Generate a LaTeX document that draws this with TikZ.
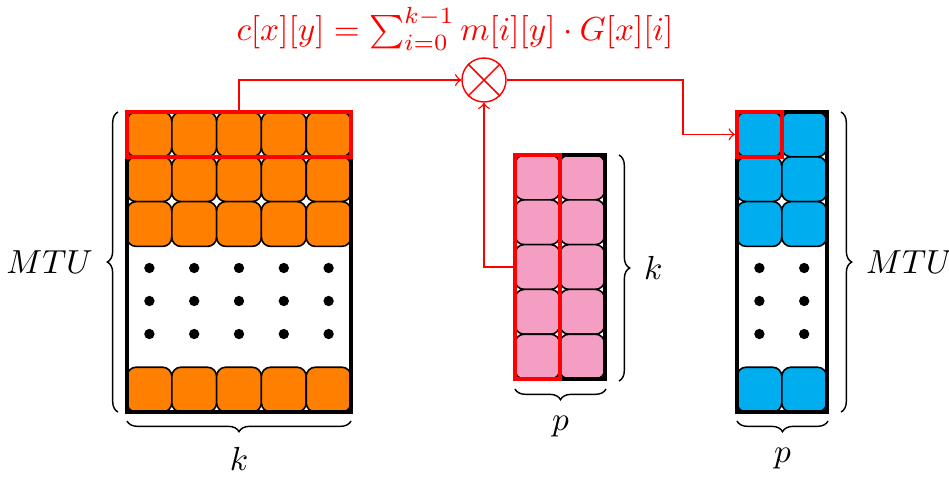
\documentclass[tikz,border=0pt]{standalone}
\usetikzlibrary{fit,decorations.pathreplacing}
\definecolor{orangeC}{RGB}{255,128,0}
\definecolor{pinkC}{RGB}{244,158,196}
\definecolor{cyanC}{RGB}{0,174,239}
\tikzset{
  cell/.style={draw=black, line width=0.48pt, rounded corners=2.75pt},
  frame/.style={draw=black, line width=1.25pt, inner sep=0pt},
  redbox/.style={draw=red, line width=1.25pt, inner sep=0pt},
  redarrow/.style={draw=red, line width=0.43pt, ->},
  bracedeco/.style={decorate, decoration={brace, amplitude=3.2pt}, line width=0.43pt},
  dotmark/.style={fill=black},
}
\begin{document}
\begin{tikzpicture}[x=0.3pt, y=-0.3pt]
\useasboundingbox (0,0) rectangle (949,478);
\def\cs{44.8}
% ---------- left matrix ----------
\foreach \c in {0,...,4}{
  \foreach \r in {0,1,2}{
    \filldraw[cell, fill=orangeC] ({127+\cs*\c},{112+\cs*\r}) rectangle ++(\cs,\cs);
  }
  \filldraw[cell, fill=orangeC] ({127+\cs*\c},367.2) rectangle ++(\cs,\cs);
  \foreach \yy in {268,301,334}{
    \fill[dotmark] ({149.4+\cs*\c},\yy) circle (1.55pt);
  }
}
\coordinate (l1) at (127,112); \coordinate (l2) at (351,412); \coordinate (l3) at (351,156.8);
\node[frame, fit=(l1)(l2)] (lmat) {};
\node[redbox, fit=(l1)(l3)] (lrow) {};
% ---------- middle matrix ----------
\foreach \c in {0,1}{
  \foreach \r in {0,...,4}{
    \filldraw[cell, fill=pinkC] ({515+\cs*\c},{155+\cs*\r}) rectangle ++(\cs,\cs);
  }
}
\coordinate (m1) at (515,155); \coordinate (m2) at (604.6,379); \coordinate (m3) at (559.8,379);
\node[frame, fit=(m1)(m2)] (mmat) {};
\node[redbox, fit=(m1)(m3)] (mcol) {};
% ---------- right matrix ----------
\foreach \c in {0,1}{
  \foreach \r in {0,1,2}{
    \filldraw[cell, fill=cyanC] ({737+\cs*\c},{112+\cs*\r}) rectangle ++(\cs,\cs);
  }
  \filldraw[cell, fill=cyanC] ({737+\cs*\c},367.2) rectangle ++(\cs,\cs);
  \foreach \yy in {268,301,334}{
    \fill[dotmark] ({759.4+\cs*\c},\yy) circle (1.55pt);
  }
}
\coordinate (r1) at (737,112); \coordinate (r2) at (826.6,412); \coordinate (r3) at (781.8,156.8);
\node[frame, fit=(r1)(r2)] (rmat) {};
\node[redbox, fit=(r1)(r3)] (rcell) {};
% ---------- multiplier ----------
\node[circle, draw=red, line width=0.43pt, minimum size=13.2pt, inner sep=0pt] (mul) at (484,80) {};
\draw[red, line width=0.43pt] (mul.north west) -- (mul.south east) (mul.north east) -- (mul.south west);
\node[red, inner sep=0pt] (eq) at (455,29) {$c[x][y] = \sum_{i=0}^{k-1} m[i][y] \cdot G[x][i]$};
\coordinate (bend) at (683,80);
\draw[redarrow] (lrow.north) |- (mul.west);
\draw[redarrow] (mcol.west) -| (mul.south);
\draw[redarrow] (mul.east) -- (bend) |- (rcell.west);
% ---------- braces ----------
\coordinate (lb1) at (118,412); \coordinate (lb2) at (118,112);
\draw[bracedeco] (lb1) -- (lb2) node[midway, left=4pt] (lMTU) {$MTU$};
\coordinate (lk1) at (351,421); \coordinate (lk2) at (127,421);
\draw[bracedeco] (lk1) -- (lk2) node[midway, below=4.5pt] (lk) {$k$};
\coordinate (mk1) at (619,155); \coordinate (mk2) at (619,381);
\draw[bracedeco] (mk1) -- (mk2) node[midway, right=4pt] (mk) {$k$};
\coordinate (mp1) at (606,389); \coordinate (mp2) at (515,389);
\draw[bracedeco] (mp1) -- (mp2) node[midway, below=4.5pt] (mp) {$p$};
\coordinate (rb1) at (841,112); \coordinate (rb2) at (841,412);
\draw[bracedeco] (rb1) -- (rb2) node[midway, right=4pt] (rMTU) {$MTU$};
\coordinate (rp1) at (828,421); \coordinate (rp2) at (737,421);
\draw[bracedeco] (rp1) -- (rp2) node[midway, below=4.5pt] (rp) {$p$};
\end{tikzpicture}
\end{document}
